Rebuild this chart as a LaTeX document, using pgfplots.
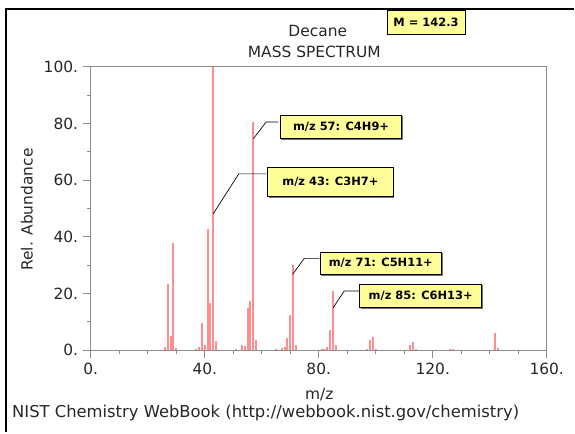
\documentclass[border=0pt]{standalone}
\usepackage{pgfplots}
\pgfplotsset{compat=1.18}
\usepackage{pgfplotstable}
\usepackage{fontspec}
\setmainfont{DejaVu Sans}
\definecolor{peak}  {HTML}{FF8E8E}
\definecolor{axgray}{HTML}{8C8C8C}
\definecolor{note}  {HTML}{FFFF99}
\definecolor{txt}   {HTML}{262626}

% decane EI spectrum, relative abundance
\pgfplotstableread{
mz   ab
26   1.0
27   23.5
28   5.0
29   38.0
30   0.8
37   0.5
38   1.0
39   9.7
40   2.0
41   42.8
42   16.5
43   100
44   3.3
51   0.4
53   2.0
54   1.5
55   14.9
56   17.2
57   80.7
58   3.5
65   0.3
67   0.8
68   1.0
69   4.2
70   12.3
71   29.9
72   2.0
81   0.3
82   0.5
83   1.0
84   7.3
85   20.8
86   1.8
97   0.5
98   3.6
99   4.6
100  0.5
112  1.7
113  2.9
114  0.3
126  0.3
127  0.4
142  6.2
143  0.7
}\spectrum

% yellow label box: x1 y1 x2 y2 text (pixel units)
\newcommand\notebox[5]{%
  \draw[black!55, line width=0.9pt] (#1+1,#4+0.8) -- (#3+0.8,#4+0.8) -- (#3+0.8,#2+1);
  \draw[fill=note, draw=black, line width=0.6pt] (#1,#2) rectangle (#3,#4);
  \node[font=\fontsize{8.6}{10}\selectfont\bfseries, text=black]
    at ({(#1+#3)/2},{(#2+#4)/2}) {#5};}

\begin{document}
\begin{tikzpicture}
\begin{scope}[x=0.75pt,y=-0.75pt]
  \path[use as bounding box] (0,0) rectangle (575,433);
\end{scope}

\begin{axis}[
  at={(68.25pt,-263.25pt)}, anchor=south west,
  scale only axis, width=342.75pt, height=213pt,
  xmin=0, xmax=160, ymin=0, ymax=100,
  xtick={0,40,...,160}, xticklabels={0.,40.,80.,120.,160.},
  minor xtick={10,20,30,50,60,70,90,100,110,130,140,150},
  ytick={0,20,...,100}, yticklabels={0.,20.,40.,60.,80.,100.},
  minor ytick={10,30,50,70,90},
  tick align=outside, tick pos=left,
  major tick length=6pt, minor tick length=3pt,
  axis line style={axgray, line width=0.6pt},
  every tick/.style={axgray, line width=0.6pt},
  tick label style={font=\fontsize{11.6}{13}\selectfont, text=txt},
  clip=false,
]
\addplot[ycomb, draw=peak, line width=1.5pt, mark=none] table[x=mz, y=ab] {\spectrum};
\end{axis}

\begin{scope}[x=0.75pt, y=-0.75pt, font=\fontsize{11.6}{13}\selectfont, text=txt]
  % frame
  \draw[line width=2pt] (6,433) -- (6,9) -- (575,9);
  % titles
  \node at (318.5,31) {Decane};
  \node at (315,52) {MASS SPECTRUM};
  \node[rotate=90] at (27,210) {Rel. Abundance};
  \node at (320,396) {m/z};
  \node[anchor=west, inner sep=0pt, font=\fontsize{12.3}{14}\selectfont]
    at (12,414) {NIST Chemistry WebBook (http://webbook.nist.gov/chemistry)};
  % molecular mass
  \draw[black!55, line width=0.9pt] (389,34.8) -- (466.8,34.8) -- (466.8,11);
  \draw[fill=note, draw=black, line width=0.6pt] (388,10) rectangle (466,34);
  \node[font=\fontsize{8.6}{10}\selectfont\bfseries, text=black] at (427,22) {M = 142.3};
  % leaders
  \draw[black, line width=0.5pt] (254,139) -- (266.7,122.3) -- (279,122.3);
  \draw[black, line width=0.5pt] (213.7,214.3) -- (239.3,174.3) -- (267,174.3);
  \draw[black, line width=0.5pt] (293.3,275) -- (305,259) -- (320,259);
  \draw[black, line width=0.5pt] (334,308.3) -- (345,291.7) -- (360,291.7);
  % boxes
  \notebox{281}{115.7}{402.7}{138.7}{m/z 57: C4H9+}
  \notebox{268.3}{167.3}{394}{196.7}{m/z 43: C3H7+}
  \notebox{320.7}{252.7}{442.7}{275}{m/z 71: C5H11+}
  \notebox{360.7}{285}{482.7}{308.3}{m/z 85: C6H13+}
\end{scope}
\end{tikzpicture}
\end{document}
